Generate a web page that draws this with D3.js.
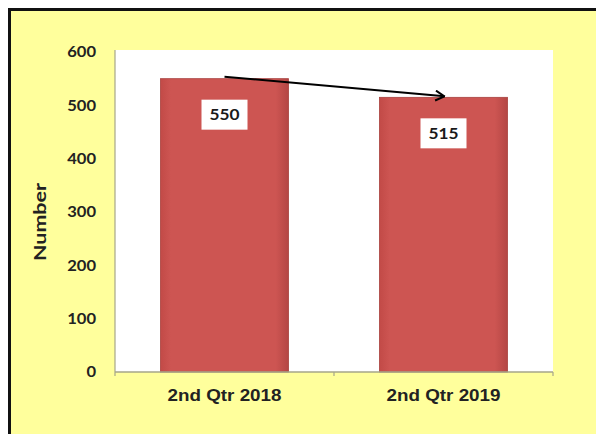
<!DOCTYPE html>
<html>
<head>
<meta charset="utf-8">
<script src="https://cdn.jsdelivr.net/npm/d3@7"></script>
<style>
  html, body { margin: 0; padding: 0; background: #ffffff; overflow: hidden; }
  svg { display: block; overflow: hidden; }
</style>
</head>
<body>
<svg id="chart" width="596" height="434"></svg>
<script>
// Quarterly counts
const categories = ["2nd Qtr 2018", "2nd Qtr 2019"];
const values = [550, 515];
const yTicks = [0, 100, 200, 300, 400, 500, 600];
const yTitle = "Number";

const W = 596, H = 434;
const plot = { left: 115, top: 52, right: 553, bottom: 372 };

const svg = d3.select("#chart");

// Chart frame: yellow panel with a heavy black top/left edge
svg.append("rect").attr("x", 0).attr("y", 0).attr("width", W).attr("height", H).attr("fill", "#ffffff");
svg.append("rect").attr("x", 9).attr("y", 9).attr("width", W - 9).attr("height", H - 9)
  .attr("fill", "#ffff9c");
svg.append("path").attr("d", `M9.5,${H}V9.5H${W}`)
  .attr("fill", "none").attr("stroke", "#111").attr("stroke-width", 3);

// Plot area
svg.append("rect")
  .attr("x", plot.left).attr("y", plot.top - 2)
  .attr("width", plot.right - plot.left).attr("height", plot.bottom - plot.top + 2)
  .attr("fill", "#ffffff");

const x = d3.scaleBand()
  .domain(categories)
  .range([plot.left, plot.right])
  .paddingInner(0.415)
  .paddingOuter(0.2075);

const y = d3.scaleLinear().domain([0, 600]).range([plot.bottom, plot.top]);

// Bar gradient for a subtle rounded look
const defs = svg.append("defs");
const grad = defs.append("linearGradient").attr("id", "barGrad").attr("x1", "0").attr("x2", "1").attr("y1", "0").attr("y2", "0");
grad.append("stop").attr("offset", "0%").attr("stop-color", "#c24a47");
grad.append("stop").attr("offset", "8%").attr("stop-color", "#cd5552");
grad.append("stop").attr("offset", "90%").attr("stop-color", "#cd5552");
grad.append("stop").attr("offset", "100%").attr("stop-color", "#b44644");

const marker = defs.append("marker")
  .attr("id", "arrowHead")
  .attr("viewBox", "0 0 12 12")
  .attr("refX", 11).attr("refY", 6)
  .attr("markerWidth", 12).attr("markerHeight", 12)
  .attr("markerUnits", "userSpaceOnUse")
  .attr("orient", "auto");
marker.append("path").attr("d", "M2,1 L11,6 L2,11")
  .attr("fill", "none").attr("stroke", "#000").attr("stroke-width", 2);

// Bars
svg.selectAll("rect.bar")
  .data(values)
  .join("rect")
  .attr("class", "bar")
  .attr("x", (d, i) => x(categories[i]))
  .attr("y", d => y(d))
  .attr("width", x.bandwidth())
  .attr("height", d => y(0) - y(d))
  .attr("fill", "url(#barGrad)")
  .attr("stroke", "#a8423f")
  .attr("stroke-width", 0.8);

// Value labels in white boxes
const labels = svg.selectAll("g.vlabel")
  .data(values)
  .join("g")
  .attr("class", "vlabel")
  .attr("transform", (d, i) => `translate(${x(categories[i]) + x.bandwidth() / 2},${y(d) + 36})`);
labels.append("rect")
  .attr("x", -23).attr("y", -15).attr("width", 46).attr("height", 30)
  .attr("fill", "#ffffff");
labels.append("text")
  .attr("text-anchor", "middle")
  .attr("dy", "0.36em")
  .attr("font-family", "Lato, 'Open Sans', sans-serif")
  .attr("font-weight", "bold")
  .attr("font-size", 15)
  .attr("textLength", 30)
  .attr("lengthAdjust", "spacingAndGlyphs")
  .attr("fill", "#1a1a1a")
  .text(d => d);

// Trend arrow from first bar top to second bar top
svg.append("line")
  .attr("x1", x(categories[0]) + x.bandwidth() / 2)
  .attr("y1", y(values[0]) - 2)
  .attr("x2", x(categories[1]) + x.bandwidth() / 2 + 1)
  .attr("y2", y(values[1]) - 1)
  .attr("stroke", "#000")
  .attr("stroke-width", 2)
  .attr("marker-end", "url(#arrowHead)");

// Y axis
const yAxis = d3.axisLeft(y).tickValues(yTicks).tickSize(0).tickPadding(19);
const gy = svg.append("g").attr("transform", `translate(${plot.left},0)`).call(yAxis);
gy.select(".domain").attr("stroke", "#a6a68a").attr("stroke-width", 1.2)
  .attr("d", `M0,${plot.top - 2}V${plot.bottom}`);
gy.selectAll("text")
  .attr("font-family", "Lato, 'Open Sans', sans-serif")
  .attr("font-weight", "bold")
  .attr("font-size", 15)
  .attr("textLength", d => String(d).length * 9.6)
  .attr("lengthAdjust", "spacingAndGlyphs")
  .attr("fill", "#222");

// X axis
const xAxis = d3.axisBottom(x).tickSize(0).tickPadding(17);
const gx = svg.append("g").attr("transform", `translate(0,${plot.bottom})`).call(xAxis);
gx.select(".domain").attr("stroke", "#a6a68a").attr("stroke-width", 1.5)
  .attr("d", `M${plot.left},0H${plot.right}`);
gx.selectAll("text")
  .attr("font-family", "'Liberation Sans', Arial, sans-serif")
  .attr("font-weight", "bold")
  .attr("font-size", 17)
  .attr("textLength", 114)
  .attr("lengthAdjust", "spacingAndGlyphs")
  .attr("fill", "#222");
// Category boundary tick marks
const bounds = [plot.left, (plot.left + plot.right) / 2, plot.right];
gx.selectAll("line.bound").data(bounds).join("line").attr("class", "bound")
  .attr("x1", d => d).attr("x2", d => d).attr("y1", 0).attr("y2", 4)
  .attr("stroke", "#a6a68a").attr("stroke-width", 1.2);

// Y axis title
svg.append("text")
  .attr("transform", `translate(46,${(plot.top + plot.bottom) / 2 + 10}) rotate(-90)`)
  .attr("text-anchor", "middle")
  .attr("font-family", "Lato, 'Open Sans', sans-serif")
  .attr("font-weight", "bold")
  .attr("font-size", 17)
  .attr("textLength", 78)
  .attr("lengthAdjust", "spacingAndGlyphs")
  .attr("fill", "#222")
  .text(yTitle);
</script>
</body>
</html>
